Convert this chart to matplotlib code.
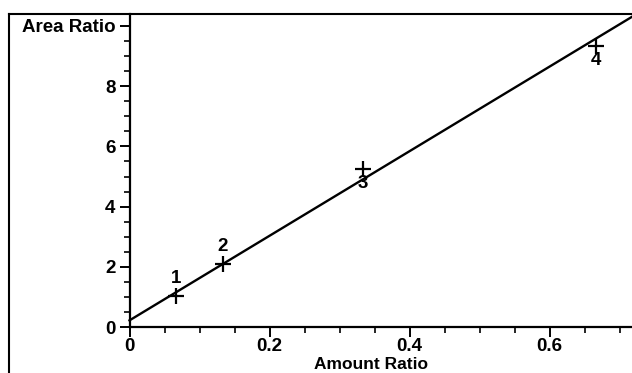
import matplotlib
matplotlib.use("Agg")
import matplotlib.pyplot as plt
from matplotlib.lines import Line2D
import numpy as np

# Data
amount_ratio = [0.0667, 0.1333, 0.3333, 0.6667]
area_ratio = [1.02, 2.08, 5.25, 9.32]
point_labels = ["1", "2", "3", "4"]
label_above = [True, True, False, False]

fit_intercept = 0.22
fit_slope = 14.05

x_ticks = [0, 0.2, 0.4, 0.6]
x_tick_labels = ["0", "0.2", "0.4", "0.6"]
y_ticks = [0, 2, 4, 6, 8, 10]
y_tick_labels = ["0", "2", "4", "6", "8", "Area Ratio"]

W, H = 632, 373
fig = plt.figure(figsize=(W / 100, H / 100), dpi=100)
font = "Liberation Sans"

x0_px, x1_px = 129.5, 632
y0_px, ytop_px = 327, 14
ax = fig.add_axes([x0_px / W, 1 - y0_px / H, (x1_px - x0_px) / W, (y0_px - ytop_px) / H])
ax.set_xlim(0, (x1_px - x0_px) / 700.0)
ax.set_ylim(0, (y0_px - ytop_px) / 30.1)

for s in ["top", "right"]:
    ax.spines[s].set_visible(False)
for s in ["left", "bottom"]:
    ax.spines[s].set_linewidth(1.6)

ax.set_xticks(x_ticks)
ax.set_xticklabels(x_tick_labels)
ax.set_yticks(y_ticks)
ax.set_yticklabels(y_tick_labels)
ax.set_xticks(np.arange(0.05, 0.72, 0.05), minor=True)
ax.set_yticks(np.arange(0.5, 10.3, 0.5), minor=True)
ax.tick_params(which="major", direction="out", length=7, width=1.4, labelsize=13.5)
ax.tick_params(axis="x", which="major", pad=1)
ax.tick_params(axis="y", which="major", pad=3)
ax.tick_params(which="minor", direction="out", length=4, width=1.2)
for lab in ax.get_xticklabels() + ax.get_yticklabels():
    lab.set_fontfamily(font)
    lab.set_fontweight("bold")

# regression line
xl = np.array([0, ax.get_xlim()[1]])
ax.plot(xl, fit_intercept + fit_slope * xl, color="black", lw=1.7, clip_on=False)

# points
ax.plot(amount_ratio, area_ratio, linestyle="none", marker="+", color="black",
        markersize=12, mew=1.6, clip_on=False)
for x, y, t, above in zip(amount_ratio, area_ratio, point_labels, label_above):
    if above:
        ax.annotate(t, (x, y), xytext=(0, 7), textcoords="offset points",
                    ha="center", va="bottom", fontsize=13.5, fontweight="bold", family=font)
    else:
        ax.annotate(t, (x, y), xytext=(0, -4), textcoords="offset points",
                    ha="center", va="top", fontsize=13.5, fontweight="bold", family=font)

# x label near the bottom edge
fig.text(371 / W, 1 / H, "Amount Ratio", ha="center", va="bottom",
         fontsize=12.5, fontweight="bold", family=font)

# outer frame
fig.add_artist(Line2D([9 / W, 1.0], [1 - 14 / H, 1 - 14 / H], transform=fig.transFigure,
                      color="black", lw=1.5))
fig.add_artist(Line2D([9 / W, 9 / W], [0, 1 - 14 / H], transform=fig.transFigure,
                      color="black", lw=1.5))

fig.savefig("out.png", dpi=100)
